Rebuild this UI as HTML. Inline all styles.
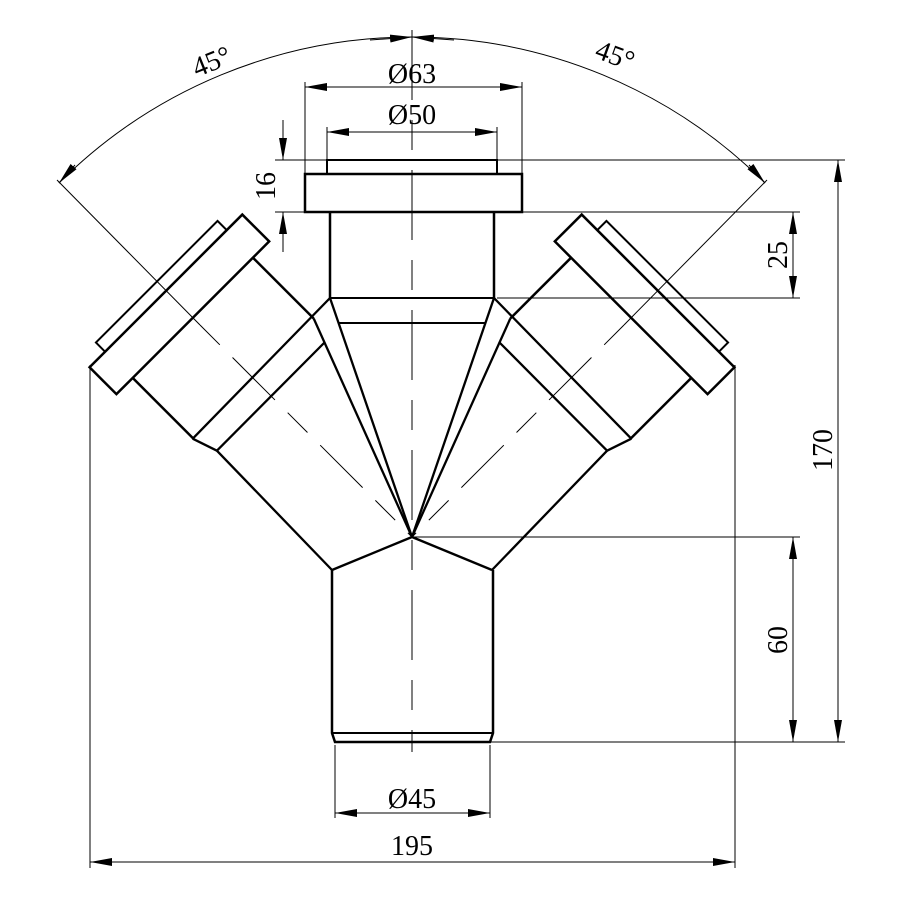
<!DOCTYPE html>
<html><head><meta charset="utf-8"><style>html,body{margin:0;padding:0;background:#fff}svg{display:block}.t{font-family:"Liberation Serif","DejaVu Serif",serif;font-size:28px;fill:#000}</style></head>
<body>
<svg width="900" height="900" viewBox="0 0 900 900" xmlns="http://www.w3.org/2000/svg">
<defs>
<marker id="a" viewBox="0 0 22 8" refX="22" refY="4" markerWidth="22" markerHeight="8" markerUnits="userSpaceOnUse" orient="auto-start-reverse"><path d="M0,0 L22,4 L0,8 Z" fill="#000"/></marker>
</defs>
<g fill="none" stroke="#000" stroke-linejoin="miter">
<g id="L">
 <g transform="translate(412,537) rotate(-45)" stroke-width="2.5">
  <rect x="-108" y="-348" width="216" height="38"/>
  <rect x="-86" y="-361" width="172" height="13" stroke-width="2"/>
  <line x1="-85" y1="-310" x2="-85" y2="-224"/>
  <line x1="85" y1="-310" x2="85" y2="-224"/>
 </g>
 <g stroke-width="2.3">
  <line x1="192.7" y1="438.7" x2="330" y2="298"/>
  <line x1="216.9" y1="450.7" x2="325" y2="342"/>
  <line x1="192.7" y1="438.7" x2="216.9" y2="450.7"/>
  <line x1="216.9" y1="450.7" x2="332" y2="570"/>
  <line x1="330" y1="298" x2="412" y2="537"/>
  <line x1="313.7" y1="318.5" x2="412" y2="537"/>
  <line x1="412" y1="537" x2="332" y2="570"/>
 </g>
 <g stroke-width="1">
  <line x1="57" y1="180" x2="200" y2="325"/>
  <line x1="200" y1="325" x2="412" y2="537" stroke-dasharray="28 18 60 18"/>
 </g>
</g>
<use href="#L" transform="matrix(-1,0,0,1,824,0)"/>
<g stroke-width="2.5">
 <rect x="305" y="174" width="217" height="38"/>
 <rect x="327" y="160" width="170" height="14" stroke-width="2"/>
 <line x1="330" y1="212" x2="330" y2="298"/>
 <line x1="494" y1="212" x2="494" y2="298"/>
 <line x1="330" y1="298" x2="494" y2="298" stroke-width="2"/>
 <line x1="338.6" y1="323" x2="485.4" y2="323" stroke-width="2"/>
 <path d="M332,570 L332,733 L335,742 L490,742 L493,733 L493,570"/>
 <line x1="332" y1="733" x2="493" y2="733" stroke-width="2"/>
</g>
<line x1="412" y1="30" x2="412" y2="752" stroke-width="1" stroke-dasharray="70 20 30 20"/>
<g stroke-width="1">
 <path d="M59,183 A500,500 0 0 1 412,37 A500,500 0 0 1 765,183"/>
 <line x1="412" y1="37" x2="370" y2="40" marker-start="url(#a)"/>
 <line x1="412" y1="37" x2="454" y2="40" marker-start="url(#a)"/>
 <line x1="59" y1="183" x2="75" y2="165" marker-start="url(#a)"/>
 <line x1="765" y1="183" x2="749" y2="165" marker-start="url(#a)"/>
 <line x1="305" y1="82" x2="305" y2="174"/><line x1="522" y1="82" x2="522" y2="174"/>
 <line x1="305" y1="87" x2="522" y2="87" marker-start="url(#a)" marker-end="url(#a)"/>
 <line x1="327" y1="127" x2="327" y2="160"/><line x1="497" y1="127" x2="497" y2="160"/>
 <line x1="327" y1="132" x2="497" y2="132" marker-start="url(#a)" marker-end="url(#a)"/>
 <line x1="275" y1="160" x2="327" y2="160"/><line x1="275" y1="212" x2="305" y2="212"/>
 <line x1="283" y1="120" x2="283" y2="160" marker-end="url(#a)"/>
 <line x1="283" y1="252" x2="283" y2="212" marker-end="url(#a)"/>
 <line x1="522" y1="212" x2="800" y2="212"/><line x1="497" y1="298" x2="800" y2="298"/>
 <line x1="793" y1="212" x2="793" y2="298" marker-start="url(#a)" marker-end="url(#a)"/>
 <line x1="412" y1="537" x2="800" y2="537"/><line x1="490" y1="742" x2="845" y2="742"/>
 <line x1="793" y1="537" x2="793" y2="742" marker-start="url(#a)" marker-end="url(#a)"/>
 <line x1="497" y1="160" x2="845" y2="160"/>
 <line x1="838" y1="160" x2="838" y2="742" marker-start="url(#a)" marker-end="url(#a)"/>
 <line x1="335" y1="745" x2="335" y2="818"/><line x1="490" y1="745" x2="490" y2="818"/>
 <line x1="335" y1="813" x2="490" y2="813" marker-start="url(#a)" marker-end="url(#a)"/>
 <line x1="90" y1="365" x2="90" y2="868"/><line x1="735" y1="365" x2="735" y2="868"/>
 <line x1="90" y1="862" x2="735" y2="862" marker-start="url(#a)" marker-end="url(#a)"/>
</g>
</g>
<g class="t" text-anchor="middle">
 <text x="412" y="83">Ø63</text>
 <text x="412" y="124">Ø50</text>
 <text x="412" y="808">Ø45</text>
 <text x="412" y="855">195</text>
 <text transform="translate(275,186) rotate(-90)">16</text>
 <text transform="translate(787,255) rotate(-90)">25</text>
 <text transform="translate(787,640) rotate(-90)">60</text>
 <text transform="translate(832,450) rotate(-90)">170</text>
 <text transform="translate(215,70) rotate(-22)">45°</text>
 <text transform="translate(612,64) rotate(20)">45°</text>
</g>
</svg>
</body></html>
